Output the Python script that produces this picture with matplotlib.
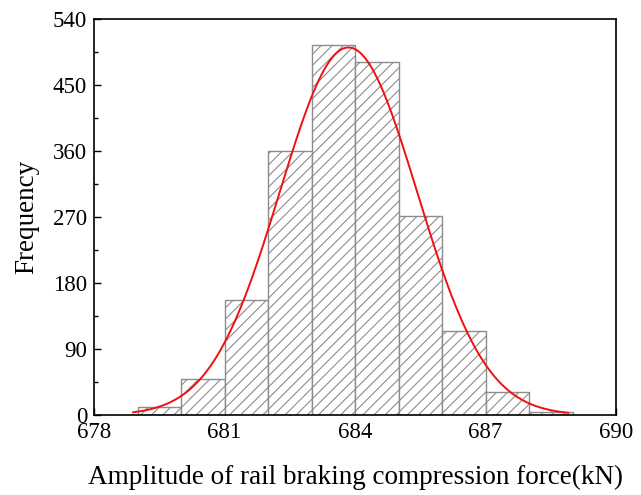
import numpy as np
import matplotlib
matplotlib.use("Agg")
import matplotlib.pyplot as plt
from matplotlib.ticker import MultipleLocator

bin_edges = [679, 680, 681, 682, 683, 684, 685, 686, 687, 688, 689]
counts = [11, 49, 157, 360, 505, 482, 271, 115, 31, 4]
fit_mu = 683.85
fit_sigma = 1.58
fit_n = 1985
x_ticks = [678, 681, 684, 687, 690]
y_ticks = [0, 90, 180, 270, 360, 450, 540]

plt.rcParams['font.family'] = ['Liberation Serif', 'DejaVu Serif']
plt.rcParams['hatch.color'] = '#9a9a9a'
plt.rcParams['hatch.linewidth'] = 0.8

fig = plt.figure(figsize=(6.41, 4.95), dpi=100)
ax = fig.add_axes([94/641, 1-415/495, (616-94)/641, (415-19)/495])

lefts = bin_edges[:-1]
widths = np.diff(bin_edges)
ax.bar(lefts, counts, width=widths, align='edge', facecolor='white',
       edgecolor='#8c8c8c', hatch='///', linewidth=1.0, zorder=2)

xs = np.linspace(678.9, 688.9, 400)
ys = fit_n * 1.0 / (fit_sigma * np.sqrt(2*np.pi)) * np.exp(-0.5*((xs-fit_mu)/fit_sigma)**2)
ax.plot(xs, ys, color='#f01010', linewidth=1.4, zorder=3)

ax.set_xlim(678, 690)
ax.set_ylim(0, 540)
ax.set_xticks(x_ticks)
ax.set_yticks(y_ticks)
ax.xaxis.set_minor_locator(MultipleLocator(1.5))
ax.yaxis.set_minor_locator(MultipleLocator(45))
ax.tick_params(which='both', direction='in', top=False, right=False, labelsize=16.5, width=1.0)
ax.tick_params(which='major', length=5, pad=5)
ax.tick_params(which='minor', length=3)
for s in ax.spines.values():
    s.set_linewidth(1.2)

ax.set_xlabel('Amplitude of rail braking compression force(kN)', fontsize=19.5, labelpad=16)
ax.set_ylabel('Frequency', fontsize=19.5, labelpad=10)

fig.savefig('out.png', dpi=100)
